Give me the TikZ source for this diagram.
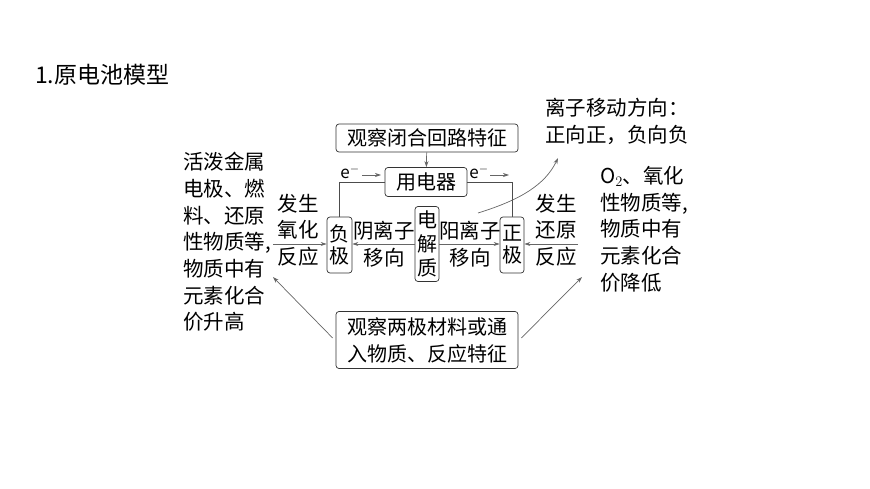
\documentclass[tikz,border=0pt]{standalone}
\usepackage{fontspec}
\setmainfont{Noto Sans CJK SC}
\usetikzlibrary{arrows.meta}
\begin{document}
\begin{tikzpicture}[x=1pt,y=-1pt,
  bx/.style={draw=black!80,rounded corners=3pt,line width=0.7pt,inner sep=2pt,align=center,font=\fontsize{20}{24}\selectfont},
  tx/.style={align=left,inner sep=0pt,font=\fontsize{20.5}{26.7}\selectfont},
  ar/.style={draw=black!60,line width=0.7pt,-{Stealth[length=6pt,width=4pt]}},
  wire/.style={draw=black!70,line width=0.7pt}]
\useasboundingbox (0,0) rectangle (870,489);
\node[anchor=west,inner sep=0pt,font=\fontsize{23}{26}\selectfont] (title) at (35,75) {1.原电池模型};
\node[bx,minimum width=182,minimum height=28] (obs) at (427,138) {观察闭合回路特征};
\node[bx,minimum width=82,minimum height=29] (load) at (426,182) {用电器};
\node[bx,minimum width=25,minimum height=56,inner sep=1pt,font=\fontsize{20}{22}\selectfont] (neg) at (339.5,245) {负\\极};
\node[bx,minimum width=24,minimum height=75,inner sep=1pt,font=\fontsize{20}{24}\selectfont] (ele) at (427,244) {电\\解\\质};
\node[bx,minimum width=24,minimum height=56,inner sep=1pt,font=\fontsize{20}{22}\selectfont] (pos) at (512,245) {正\\极};
\node[bx,minimum width=182,minimum height=57,font=\fontsize{20}{27}\selectfont] (bot) at (427,340) {观察两极材料或通\\入物质、反应特征};
\node[tx,anchor=north west] (lt) at (183,152) {活泼金属\\电极、燃\\料、还原\\性物质等,\\物质中有\\元素化合\\价升高};
\node[tx,anchor=north west] (rt) at (600,166) {O$_2$、氧化\\性物质等,\\物质中有\\元素化合\\价降低};
\node[tx,anchor=north west] (ion) at (545,98) {离子移动方向：\\正向正，负向负};
\node[tx,align=center] (ox) at (298,230) {发生\\氧化\\反应};
\node[tx,align=center] (re) at (556,230) {发生\\还原\\反应};
\node[tx,align=center] (an) at (384,244) {阴离子\\移向};
\node[tx,align=center] (ca) at (470,244) {阳离子\\移向};
\node[inner sep=0pt,font=\fontsize{17}{20}\selectfont] (e1) at (350,172) {e$^-$};
\node[inner sep=0pt,font=\fontsize{17}{20}\selectfont] (e2) at (479,172) {e$^-$};
\coordinate (l0) at (273,244);
\coordinate (r0) at (578,244);
\coordinate (c1) at (478,213);
\coordinate (c2) at (558,158);
\coordinate (d1) at (273,277);
\coordinate (d2) at (582,277);
\draw[wire] (neg.north) |- (load.west);
\draw[wire] (load.east) -| (pos.north);
\draw[ar] (obs) -- (load);
\draw[ar] (362,175) -- (381,175);
\draw[ar] (490,175) -- (509,175);
\draw[ar] (l0) -- (neg.west |- l0);
\draw[ar] (r0) -- (pos.east |- r0);
\draw[ar] (ele.west |- l0) -- (neg.east |- l0);
\draw[ar] (ele.east |- r0) -- (pos.west |- r0);
\draw[ar] (c1) .. controls (520,200) and (545,185) .. (c2);
\draw[ar] (bot.west) ++(-3,-2) -- (d1);
\draw[ar] (bot.east) ++(3,-2) -- (d2);
\end{tikzpicture}
\end{document}
